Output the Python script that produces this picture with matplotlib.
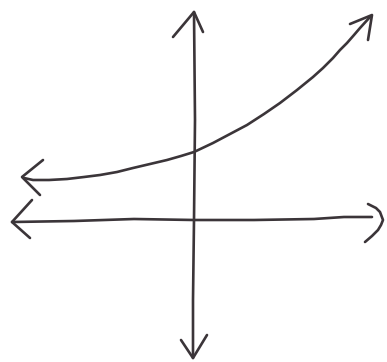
import matplotlib
matplotlib.use("Agg")
import matplotlib.pyplot as plt
import numpy as np

# sketch coordinates: origin where the two axes cross, y up (pixel-ish units)
curve_x = [-170, -161, -145, -127, -110, -94, -77, -61, -44, -27, -13, 0,
           19, 36, 53, 70, 86, 103, 119, 129, 139, 146, 153, 160, 166, 176]
curve_y = [42, 40, 40, 41, 43, 45, 48, 52, 56, 60, 64, 68,
           77, 86, 95, 106, 117, 130, 143, 152, 162, 170, 177, 185, 192, 203]

x_axis_x = [-182, -120, -60, 0, 60, 120, 150, 178]
x_axis_y = [-2, -1, 1, 0, 0, 1, 3, 3]
y_axis_x = [0, 1, 0, -1, -1]
y_axis_y = [208, 100, 0, -80, -138]

# arrowheads as point runs (arm, apex, arm)
heads = {
    "y_top": ([-21, 0, 9], [183, 208, 188]),
    "y_bottom": ([-13, -1, 13], [-120, -138, -115]),
    "x_left": ([-162, -182, -164], [20, -2, -18]),
    "x_right": ([174, 182, 186, 189, 187, 184, 178, 171], [16, 12, 8, 0, -5, -10, -16, -22]),
    "curve_left": ([-151, -172, -154], [60, 43, 25]),
    "curve_top": ([156, 178, 174], [196, 205, 180]),
}

ink = "#3b3539"
fig = plt.figure(figsize=(3.87, 3.62), dpi=100)
ax = fig.add_axes([0, 0, 1, 1])
ax.set_xlim(-194, 193)
ax.set_ylim(-142, 220)
ax.axis("off")

lw = 1.9
ax.plot(curve_x, curve_y, color=ink, lw=lw, solid_capstyle="round", solid_joinstyle="round")
ax.plot(x_axis_x, x_axis_y, color=ink, lw=lw, solid_capstyle="round")
ax.plot(y_axis_x, y_axis_y, color=ink, lw=lw, solid_capstyle="round")
for name, (hx, hy) in heads.items():
    ax.plot(hx, hy, color=ink, lw=lw, solid_capstyle="round", solid_joinstyle="round")

fig.savefig("out.png", dpi=100, facecolor="white")
